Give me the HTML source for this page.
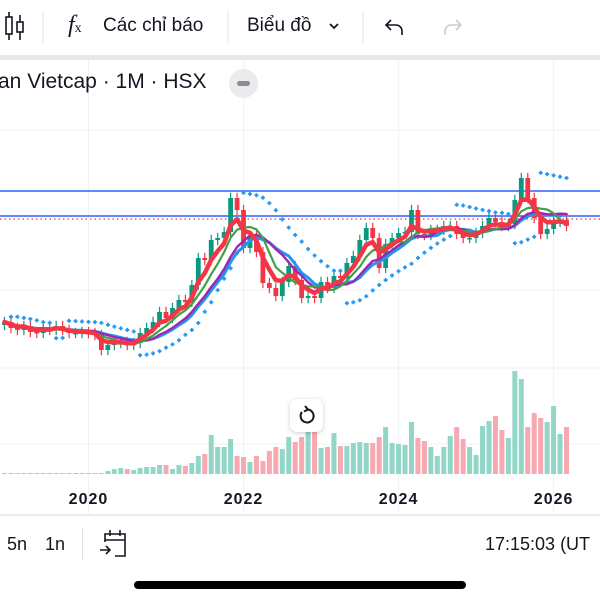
<!DOCTYPE html>
<html><head><meta charset="utf-8">
<style>
html,body{margin:0;padding:0;background:#fff;width:600px;height:600px;overflow:hidden;font-family:"Liberation Sans","Noto Sans CJK SC",sans-serif;color:#131722}
#root{position:relative;width:600px;height:600px}
.t{position:absolute;white-space:nowrap}
</style></head><body>
<div id="root">
<svg id="chart" width="600" height="600" style="position:absolute;left:0;top:0"></svg>

<div style="position:absolute;left:0;top:0;width:600px;height:55px;background:#fff"></div>
<svg style="position:absolute;left:0;top:0" width="600" height="60">
  <g stroke="#131722" stroke-width="1.6" fill="none">
    <line x1="9" y1="12" x2="9" y2="40"/><rect x="6" y="17" width="6" height="17" fill="#fff"/>
    <line x1="20" y1="15" x2="20" y2="40"/><rect x="17" y="22" width="6" height="10" fill="#fff"/>
  </g>
  <line x1="43" y1="11" x2="43" y2="43" stroke="#e0e3eb" stroke-width="1"/>
  <line x1="228" y1="11" x2="228" y2="43" stroke="#e0e3eb" stroke-width="1"/>
  <line x1="363" y1="11" x2="363" y2="43" stroke="#e0e3eb" stroke-width="1"/>
  <path d="M330 24 l4 4 l4 -4" stroke="#131722" stroke-width="1.8" fill="none"/>
  <path d="M402 35 v-4 a6 6 0 0 0 -6 -6 h-10 M391 20 l-5 5 l5 5" stroke="#131722" stroke-width="1.6" fill="none"/>
  <path d="M445 35 v-4 a6 6 0 0 1 6 -6 h10 M456 20 l5 5 l-5 5" stroke="#c8cbd3" stroke-width="1.6" fill="none"/>
</svg>
<div class="t" style="left:68px;top:12px;font-family:'Liberation Serif',serif;font-style:italic;font-size:24px">f<span style="font-size:14px;font-style:normal">x</span></div>
<div class="t" style="left:103px;top:15px;font-size:19px">Các chỉ báo</div>
<div class="t" style="left:247px;top:15px;font-size:19px">Biểu đồ</div>
<div style="position:absolute;left:0;top:55px;width:600px;height:5px;background:#e6e8ee"></div>

<div class="t" style="left:-2px;top:70px;font-size:21px">an Vietcap · 1M · HSX</div>
<div style="position:absolute;left:229px;top:69px;width:29px;height:29px;border-radius:50%;background:#ebebee"><div style="position:absolute;left:8px;top:12px;width:13px;height:5px;border-radius:3px;background:#8a8d96"></div></div>

<div style="position:absolute;left:290px;top:399px;width:33px;height:33px;border-radius:7px;background:#fff;box-shadow:0 1px 5px rgba(0,0,0,.2)">
  <svg width="33" height="33"><path d="M12 13 a6.5 6.5 0 1 0 5 -2.5" stroke="#131722" stroke-width="2" fill="none"/><path d="M15 7 l3 3.5 l-4 2" stroke="#131722" stroke-width="2" fill="none"/></svg>
</div>

<div style="position:absolute;left:0;top:514px;width:600px;height:2px;background:#e9ebf0"></div>
<div class="t" style="left:7px;top:534px;font-size:18px">5n</div>
<div class="t" style="left:45px;top:534px;font-size:18px">1n</div>
<div style="position:absolute;left:82px;top:528px;width:1px;height:32px;background:#e0e3eb"></div>
<svg style="position:absolute;left:98px;top:528px" width="32" height="32">
  <path d="M7 14 v-8 h20 v22 h-10 M7 12 h20 M12 2 v6 M22 2 v6 M2 22 h9 M8 18 l4 4 l-4 4" stroke="#131722" stroke-width="1.6" fill="none"/>
</svg>
<div class="t" style="left:485px;top:534px;font-size:18px">17:15:03 (UT</div>
<div style="position:absolute;left:134px;top:581px;width:332px;height:8px;border-radius:4px;background:#000"></div>
</div>

<script>
const startYear = 2018, startMonth = 11;
const closes = [27.25,25.75,25.25,26.25,24.75,24.5,25.75,25.25,26.25,25.25,24.5,24.5,24.75,24.5,24,20.25,21.5,22,22.25,21.5,22,24.5,25.75,27.25,29.75,28.25,30.75,32.75,32.25,36.5,43.25,42.75,47.75,48.25,49.75,58.25,55.25,45.75,48.75,44.75,37,35.75,33.75,37.25,41.25,37.75,33.25,33.75,33.25,37.25,35.75,38.75,38.25,42,43.75,47.75,50.75,48.25,40.75,46.75,48.25,49.5,49.75,55.25,49.25,49,50.25,50.25,51.25,51.25,49.25,48.25,48.25,49.5,51.25,53.25,52.25,51.25,51.75,57.75,63.25,58.25,53.25,49.25,50.5,52.25,52.75,51.25];
const firstOpen = 26.5;
const volumes = [1,1,1,1,1,1,1,1,1,1,1,1,1,1,1,1,3,5,6,5,4,6,7,7,9,9,5,9,8,11,18,20,39,27,27,35,18,17,12,18,13,23,27,25,37,32,37,45,45,26,27,41,28,28,31,32,31,31,37,47,31,30,29,52,36,33,27,18,27,38,47,35,27,19,48,53,58,44,36,103,95,47,61,56,52,68,40,47];
const levels = [60, 53.75];
const alertLevels = [53];
const yearTicks = [2020, 2022, 2024, 2026];

const svg = document.getElementById('chart');
const NS = 'http://www.w3.org/2000/svg';
const GREEN = '#089981', RED = '#f23645';
function xScale(i){ return 4.5 + i * 6.46; }
function xDate(year, month){ return xScale((year - startYear) * 12 + (month - startMonth)); }
function yScale(p){ return 191 + (60 - p) * 4; }
function vScale(v){ return 474 - v; }
function mk(tag, attrs){ const e = document.createElementNS(NS, tag); for (const k in attrs) e.setAttribute(k, attrs[k]); svg.appendChild(e); return e; }

[130, 290, 368, 444].forEach(y => {
  const g = mk('line', {x1:0, x2:600, y1:y, y2:y, stroke:'#f0f2f6', 'stroke-width':1});
  
  
});
yearTicks.forEach(yr => {
  const x = xDate(yr, 0);
  const g = mk('line', {x1:x, x2:x, y1:60, y2:514, stroke:'#f0f2f6', 'stroke-width':1});
  
  
  const t = mk('text', {x:x, y:504, 'text-anchor':'middle', 'font-size':16, 'font-weight':'bold', fill:'#131722', 'font-family':'"Liberation Sans",sans-serif', 'letter-spacing':'1'});
  t.textContent = yr;
  
  
});

const opens = closes.map((c, i) => i === 0 ? firstOpen : closes[i - 1]);
const highs = closes.map((c, i) => Math.max(c, opens[i]) + 1.3);
const lows = closes.map((c, i) => Math.min(c, opens[i]) - 1.3);

volumes.forEach((v, i) => {
  const up = closes[i] >= opens[i];
  const r = mk('rect', {x:xScale(i) - 2.5, y:vScale(v), width:5, height:Math.max(1, 474 - vScale(v)), fill: up ? '#92d6c8' : '#f7a8b0'});
  
  
});

levels.forEach(p => {
  const l = mk('line', {x1:0, x2:600, y1:yScale(p), y2:yScale(p), stroke:'#2962ff', 'stroke-width':1.4});
  
  
});
alertLevels.forEach(p => {
  const l = mk('line', {x1:0, x2:600, y1:yScale(p), y2:yScale(p), stroke:RED, 'stroke-width':1.3, 'stroke-dasharray':'1.5 3'});
  
  
});

closes.forEach((c, i) => {
  const o = opens[i], up = c >= o, col = up ? GREEN : RED, x = xScale(i);
  const w = mk('line', {x1:x, x2:x, y1:yScale(highs[i]), y2:yScale(lows[i]), stroke:col, 'stroke-width':1.2});
  
  
  const top = yScale(Math.max(o, c)), bot = yScale(Math.min(o, c));
  const b = mk('rect', {x:x - 2.4, y:top, width:4.8, height:Math.max(1.5, bot - top), fill:col});
  
  
});

function sma(n){ return closes.map((c, i) => { const s = closes.slice(Math.max(0, i - n + 1), i + 1); return s.reduce((a, b) => a + b, 0) / s.length; }); }
function ema(n){ const k = 2 / (n + 1); let e = closes[0]; return closes.map(c => (e = c * k + e * (1 - k))); }
function drawLine(vals, color, w, name){
  const d = vals.map((v, i) => (i ? 'L' : 'M') + xScale(i).toFixed(1) + ' ' + yScale(v).toFixed(1)).join(' ');
  const p = mk('path', {d:d, stroke:color, 'stroke-width':w, fill:'none', 'stroke-linejoin':'round', 'stroke-linecap':'round'});
  
  
}
drawLine(sma(10), '#2196f3', 3, 'ma-blue-line');
drawLine(sma(9), '#9c27b0', 2.4, 'ma-purple-line');
drawLine(sma(6), '#43a047', 2.2, 'ma-green-line');
drawLine(ema(4), RED, 4.5, 'ema-red-line');

(function(){
  let up = false, af = 0.02, ep = lows[0], sar = highs[0];
  for (let i = 1; i < closes.length; i++) {
    sar = sar + af * (ep - sar);
    if (up) {
      sar = Math.min(sar, lows[i - 1]);
      if (lows[i] < sar) { up = false; sar = ep; ep = lows[i]; af = 0.02; }
      else if (highs[i] > ep) { ep = highs[i]; af = Math.min(0.2, af + 0.02); }
    } else {
      sar = Math.max(sar, highs[i - 1]);
      if (highs[i] > sar) { up = true; sar = ep; ep = highs[i]; af = 0.02; }
      else if (lows[i] < ep) { ep = lows[i]; af = Math.min(0.2, af + 0.02); }
    }
    const x = xScale(i), y = yScale(sar);
    const m = mk('path', {d:`M${x-2} ${y} h4 M${x} ${y-2} v4`, stroke:'#2196f3', 'stroke-width':1.8});
    
    
  }
})();
</script>
</body></html>
